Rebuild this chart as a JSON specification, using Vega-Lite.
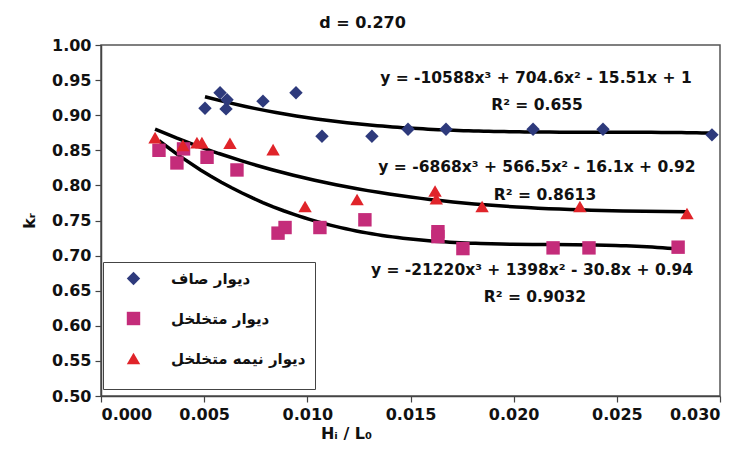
{
  "$schema": "https://vega.github.io/schema/vega-lite/v6.json",
  "autosize": {"type": "none"},
  "width": 619,
  "height": 351,
  "padding": {"left": 101, "top": 45, "right": 32, "bottom": 61},
  "background": "white",
  "title": {"text": "d = 0.270", "font": "DejaVu Sans", "fontSize": 16, "fontWeight": "bold", "color": "#111", "anchor": "middle", "dx": -48, "offset": 6},
  "datasets": {
    "pts": [
      {"s": "دیوار صاف", "x": 0.00504, "y": 0.910},
      {"s": "دیوار صاف", "x": 0.00577, "y": 0.932},
      {"s": "دیوار صاف", "x": 0.00611, "y": 0.922},
      {"s": "دیوار صاف", "x": 0.00606, "y": 0.909},
      {"s": "دیوار صاف", "x": 0.00785, "y": 0.920},
      {"s": "دیوار صاف", "x": 0.00945, "y": 0.932},
      {"s": "دیوار صاف", "x": 0.01071, "y": 0.870},
      {"s": "دیوار صاف", "x": 0.01313, "y": 0.870},
      {"s": "دیوار صاف", "x": 0.01488, "y": 0.880},
      {"s": "دیوار صاف", "x": 0.01672, "y": 0.880},
      {"s": "دیوار صاف", "x": 0.02094, "y": 0.880},
      {"s": "دیوار صاف", "x": 0.02433, "y": 0.880},
      {"s": "دیوار صاف", "x": 0.02961, "y": 0.872},
      {"s": "دیوار متخلخل", "x": 0.00281, "y": 0.850},
      {"s": "دیوار متخلخل", "x": 0.00368, "y": 0.832},
      {"s": "دیوار متخلخل", "x": 0.00400, "y": 0.852},
      {"s": "دیوار متخلخل", "x": 0.00514, "y": 0.840},
      {"s": "دیوار متخلخل", "x": 0.00659, "y": 0.822},
      {"s": "دیوار متخلخل", "x": 0.00858, "y": 0.732},
      {"s": "دیوار متخلخل", "x": 0.00892, "y": 0.740},
      {"s": "دیوار متخلخل", "x": 0.01061, "y": 0.740},
      {"s": "دیوار متخلخل", "x": 0.01279, "y": 0.751},
      {"s": "دیوار متخلخل", "x": 0.01633, "y": 0.734},
      {"s": "دیوار متخلخل", "x": 0.01633, "y": 0.727},
      {"s": "دیوار متخلخل", "x": 0.01754, "y": 0.710},
      {"s": "دیوار متخلخل", "x": 0.02191, "y": 0.711},
      {"s": "دیوار متخلخل", "x": 0.02365, "y": 0.711},
      {"s": "دیوار متخلخل", "x": 0.02797, "y": 0.712},
      {"s": "دیوار نیمه متخلخل", "x": 0.00262, "y": 0.868},
      {"s": "دیوار نیمه متخلخل", "x": 0.00397, "y": 0.857},
      {"s": "دیوار نیمه متخلخل", "x": 0.00465, "y": 0.861},
      {"s": "دیوار نیمه متخلخل", "x": 0.00489, "y": 0.861},
      {"s": "دیوار نیمه متخلخل", "x": 0.00625, "y": 0.860},
      {"s": "دیوار نیمه متخلخل", "x": 0.00834, "y": 0.851},
      {"s": "دیوار نیمه متخلخل", "x": 0.00989, "y": 0.770},
      {"s": "دیوار نیمه متخلخل", "x": 0.01241, "y": 0.780},
      {"s": "دیوار نیمه متخلخل", "x": 0.01619, "y": 0.792},
      {"s": "دیوار نیمه متخلخل", "x": 0.01625, "y": 0.781},
      {"s": "دیوار نیمه متخلخل", "x": 0.01847, "y": 0.770},
      {"s": "دیوار نیمه متخلخل", "x": 0.02321, "y": 0.770},
      {"s": "دیوار نیمه متخلخل", "x": 0.02840, "y": 0.760}
    ],
    "notes": [
      {"x": 0.02108, "y": 0.953, "t": "y = -10588x³ + 704.6x² - 15.51x + 1"},
      {"x": 0.02113, "y": 0.915, "t": "R² = 0.655"},
      {"x": 0.02113, "y": 0.826, "t": "y = -6868x³ + 566.5x² - 16.1x + 0.92"},
      {"x": 0.02152, "y": 0.786, "t": "R² = 0.8613"},
      {"x": 0.02089, "y": 0.679, "t": "y = -21220x³ + 1398x² - 30.8x + 0.94"},
      {"x": 0.02103, "y": 0.641, "t": "R² = 0.9032"}
    ]
  },
  "encoding": {
    "x": {
      "field": "x", "type": "quantitative",
      "scale": {"domain": [0, 0.03], "nice": false, "zero": false},
      "axis": {"values": [0, 0.005, 0.01, 0.015, 0.02, 0.025, 0.03], "format": ".3f", "title": "Hᵢ / L₀", "titleX": 245, "titlePadding": 3}
    },
    "y": {
      "field": "y", "type": "quantitative",
      "scale": {"domain": [0.5, 1.0], "nice": false, "zero": false},
      "axis": {"values": [0.5, 0.55, 0.6, 0.65, 0.7, 0.75, 0.8, 0.85, 0.9, 0.95, 1.0], "format": ".2f", "title": "kᵣ", "titlePadding": 14}
    }
  },
  "layer": [
    {
      "data": {"name": "pts"},
      "transform": [{"regression": "y", "on": "x", "groupby": ["s"], "method": "poly", "order": 3}],
      "mark": {"type": "line", "color": "black", "strokeWidth": 3.5, "clip": true},
      "encoding": {"detail": {"field": "s"}}
    },
    {
      "data": {"name": "pts"},
      "mark": {"type": "point", "filled": true, "opacity": 1, "size": 180},
      "encoding": {
        "shape": {"field": "s", "type": "nominal", "scale": {"domain": ["دیوار صاف", "دیوار متخلخل", "دیوار نیمه متخلخل"], "range": ["diamond", "square", "triangle-up"]}, "legend": null},
        "color": {"field": "s", "type": "nominal", "scale": {"domain": ["دیوار صاف", "دیوار متخلخل", "دیوار نیمه متخلخل"], "range": ["#2E3A7C", "#C42C7A", "#E0242A"]},
          "legend": {"orient": "none", "legendX": 2, "legendY": 217, "title": " ", "titleOrient": "bottom", "titleFontSize": 12, "titlePadding": 2, "padding": 9, "rowPadding": 24, "symbolOffset": 14, "labelOffset": 30, "symbolSize": 180, "labelFont": "DejaVu Sans", "labelFontSize": 15, "labelFontWeight": "bold", "labelColor": "#111", "strokeColor": "#444", "fillColor": "white", "symbolStrokeWidth": 0, "symbolOpacity": 1}
        }
      }
    },
    {
      "data": {"name": "notes"},
      "mark": {"type": "text", "font": "DejaVu Sans", "fontSize": 15.5, "fontWeight": "bold", "color": "#111", "align": "center", "baseline": "middle"},
      "encoding": {"text": {"field": "t"}}
    }
  ],
  "config": {
    "view": {"stroke": "#555", "strokeWidth": 1.5},
    "axis": {
      "grid": false,
      "labelFont": "DejaVu Sans", "labelFontSize": 16, "labelFontWeight": "bold", "labelColor": "#111",
      "titleFont": "DejaVu Sans", "titleFontSize": 16, "titleFontWeight": "bold", "titleColor": "#111",
      "domainColor": "#444", "domainWidth": 1.5, "tickColor": "#444", "tickSize": 6, "tickWidth": 1.2, "labelPadding": 4
    }
  }
}
